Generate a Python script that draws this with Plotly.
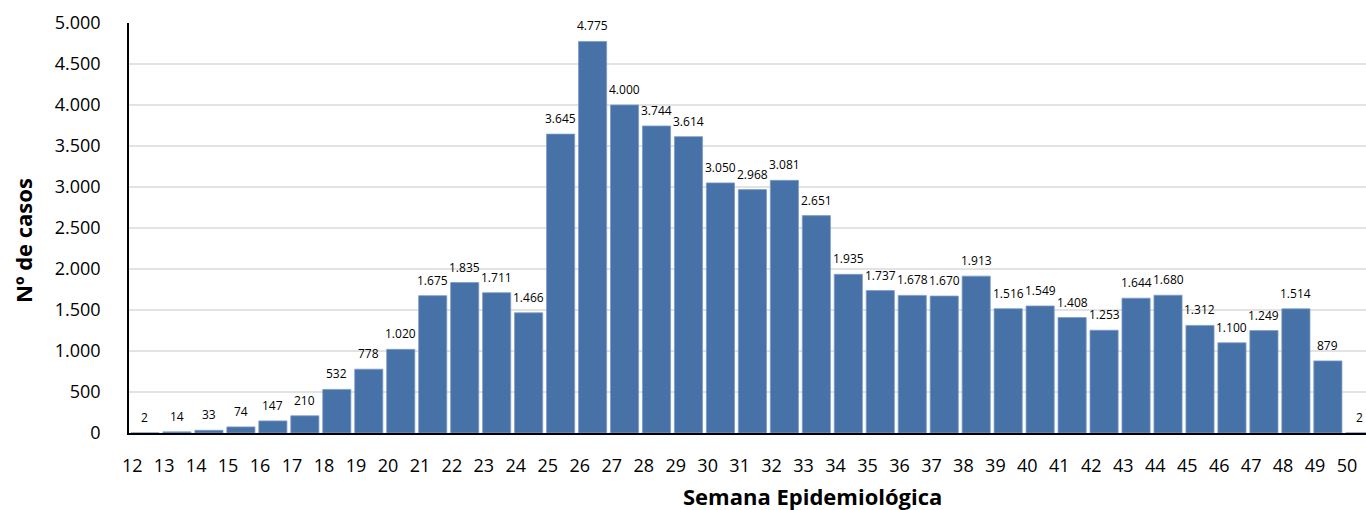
import plotly.graph_objects as go

weeks = list(range(12, 51))
cases = [2, 14, 33, 74, 147, 210, 532, 778, 1020, 1675, 1835, 1711, 1466,
         3645, 4775, 4000, 3744, 3614, 3050, 2968, 3081, 2651, 1935, 1737,
         1678, 1670, 1913, 1516, 1549, 1408, 1253, 1644, 1680, 1312, 1100,
         1249, 1514, 879, 2]
y_ticks = list(range(0, 5001, 500))

def fmt(v):
    return f"{v:,}".replace(",", ".")

W, H = 1366, 510
L, R, T, B = 129, 0, 23, 77

fig = go.Figure(go.Bar(
    x=weeks, y=cases,
    width=0.88,
    marker=dict(color="#4672A8", line=dict(color="#7C9CC8", width=0.8)),
    hoverinfo="x+y",
))

annotations = []
for w, v in zip(weeks, cases):
    annotations.append(dict(
        x=w, y=v, xref="x", yref="y", text=fmt(v), showarrow=False,
        xanchor="center", yanchor="bottom", yshift=5,
        font=dict(family="Open Sans", size=12, color="#000000"),
    ))

pw = W - L - R
ph = H - T - B
annotations.append(dict(
    text="<b>Semana Epidemiológica</b>", x=(812 - L) / pw, y=(H - B - 496) / ph,
    xref="paper", yref="paper", showarrow=False, xanchor="center", yanchor="middle",
    font=dict(family="Open Sans", size=22, color="#000000")))
annotations.append(dict(
    text="<b>Nº de casos</b>", x=(23 - L) / pw, y=(H - B - 241) / ph,
    xref="paper", yref="paper", showarrow=False, xanchor="center", yanchor="middle",
    textangle=-90, font=dict(family="Open Sans", size=22, color="#000000")))

fig.update_layout(
    width=W, height=H,
    margin=dict(l=L, r=R, t=T, b=B, autoexpand=False),
    plot_bgcolor="white", paper_bgcolor="white",
    showlegend=False,
    xaxis=dict(
        range=[11.5, 11.5 + pw / 31.97],
        tickmode="array",
        tickvals=[w - 0.4 for w in weeks],
        ticktext=[str(w) for w in weeks],
        tickfont=dict(family="Open Sans", size=18, color="#000000"),
        showgrid=False, zeroline=False,
        showline=True, linecolor="#000000", linewidth=1.5,
        ticks="", ticklabelstandoff=16, automargin=False,
    ),
    yaxis=dict(
        range=[0, 5000],
        tickmode="array",
        tickvals=y_ticks,
        ticktext=[fmt(v) for v in y_ticks],
        tickfont=dict(family="Open Sans", size=18, color="#000000"),
        showgrid=True, gridcolor="#E3E3E3", gridwidth=1.5,
        zeroline=False,
        showline=True, linecolor="#000000", linewidth=1.5,
        ticks="", ticklabelstandoff=23, automargin=False,
    ),
    annotations=annotations,
)

fig.write_html(
    "out.html",
    config={"displayModeBar": False},
    post_script="document.body.style.margin='0';document.documentElement.style.overflow='hidden';",
)
